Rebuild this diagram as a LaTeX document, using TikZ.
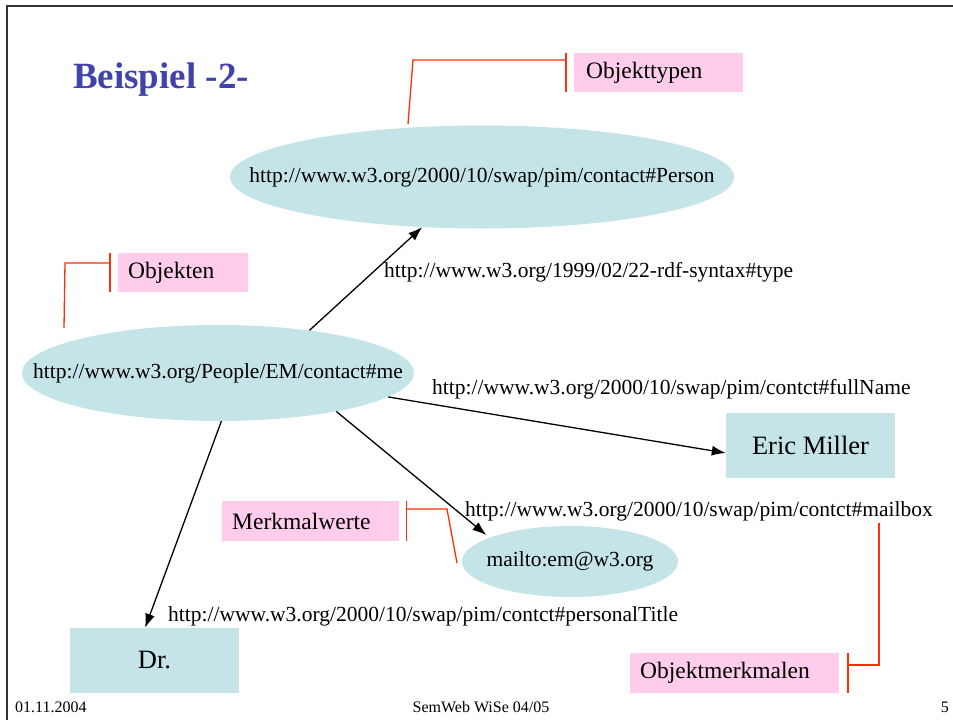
\documentclass[tikz,border=0pt]{standalone}
\usepackage{fontspec}
\setmainfont{Liberation Serif}
\usetikzlibrary{shapes.geometric,arrows.meta,calc}
\definecolor{nodefill}{RGB}{197,228,232}
\definecolor{calloutfill}{RGB}{255,204,236}
\definecolor{calloutline}{RGB}{255,45,10}
\definecolor{titleblue}{RGB}{64,68,170}
\begin{document}
\begin{tikzpicture}[x=1pt,y=-1pt,
  ell/.style={ellipse,fill=nodefill,inner sep=0pt},
  valbox/.style={rectangle,fill=nodefill,inner sep=0pt,font=\fontsize{26.5}{30}\selectfont},
  callbox/.style={rectangle,fill=calloutfill,inner sep=0pt,font=\fontsize{23.5}{27}\selectfont},
  callline/.style={draw=calloutline,line width=1.3pt},
  edge/.style={draw=black,line width=1.3pt,-{Latex[length=14pt,width=10pt]}},
  elab/.style={inner sep=0pt,anchor=west,font=\fontsize{21.5}{25}\selectfont},
  foot/.style={inner sep=0pt,font=\fontsize{16}{19}\selectfont}]
\useasboundingbox (0,0) rectangle (953,720);
\fill[white] (0,0) rectangle (953,720);
\draw[line width=1.4pt,black!80] (953,6) -- (7,6) -- (7,720);

% title
\node[inner sep=0pt,anchor=base west,text=titleblue,font=\fontsize{37}{42}\selectfont\bfseries] (title) at (73,88) {Beispiel -2-};

% nodes
\node[ell,minimum width=504pt,minimum height=103pt,label={[font=\fontsize{21.5}{25}\selectfont]center:http://www.w3.org/2000/10/swap/pim/contact\#Person}] (person) at (482,177) {};
\node[ell,minimum width=392pt,minimum height=96pt,label={[font=\fontsize{21.5}{25}\selectfont]center:http://www.w3.org/People/EM/contact\#me}] (me) at (218,373) {};
\node[ell,minimum width=216pt,minimum height=71pt,label={[font=\fontsize{21.5}{25}\selectfont]center:mailto:em@w3.org}] (mail) at (570,561.5) {};
\node[valbox,minimum width=169pt,minimum height=65pt] (eric) at (810.5,445.5) {Eric Miller};
\node[valbox,minimum width=169pt,minimum height=65pt] (dr) at (154.5,660.5) {Dr.};

% edges
\draw[edge] (me.25) -- (person.220);
\draw[edge] (me.-8) -- ([yshift=-7.5pt]eric.west);
\draw[edge] (me.-18) -- ([xshift=-11pt]mail.160);
\draw[edge] (me.-86) -- (dr.106);

% edge labels
\node[elab] (l1) at (384,272) {http://www.w3.org/1999/02/22-rdf-syntax\#type};
\node[elab] (l2) at (432,389) {http://www.w3.org/2000/10/swap/pim/contct\#fullName};
\node[elab] (l3) at (465,511) {http://www.w3.org/2000/10/swap/pim/contct\#mailbox};
\node[elab] (l4) at (168,616) {http://www.w3.org/2000/10/swap/pim/contct\#personalTitle};

% callouts
\node[callbox,minimum width=169pt,minimum height=39pt,anchor=north west,text width=145pt,align=left] (cot) at (574,53) {Objekttypen};
\coordinate (cotend) at (408,124);
\draw[callline] ([xshift=-8pt]cot.north west) -- ([xshift=-8pt]cot.south west);
\draw[callline] ([xshift=-8pt,yshift=-7pt]cot.north west) -- (413,60) -- (cotend);

\node[callbox,minimum width=130pt,minimum height=39pt,anchor=north west,text width=110pt,align=left] (cob) at (118,253) {Objekten};
\coordinate (cobend) at (64,328);
\draw[callline] ([xshift=-8pt]cob.north west) -- ([xshift=-8pt]cob.south west);
\draw[callline] ([xshift=-8pt,yshift=-10pt]cob.north west) -- (65,263) -- (cobend);

\node[callbox,minimum width=177pt,minimum height=40pt,anchor=north west,text width=157pt,align=left] (cmw) at (222,501) {Merkmalwerte};
\coordinate (cmwend) at (457,563);
\draw[callline] ([xshift=7pt]cmw.north east) -- ([xshift=7pt]cmw.south east);
\draw[callline] ([xshift=7pt,yshift=-8pt]cmw.north east) -- (447,509) -- (cmwend);

\node[callbox,minimum width=209pt,minimum height=40pt,anchor=north west,text width=189pt,align=left] (cmm) at (630,653) {Objektmerkmalen};
\coordinate (cmmend) at (879,523);
\draw[callline] ([xshift=8.5pt]cmm.north east) -- ([xshift=8.5pt]cmm.south east);
\draw[callline] ([xshift=8.5pt,yshift=-12pt]cmm.north east) -- (879,665) -- (cmmend);

% footer
\node[foot,anchor=base west] (fdate) at (15,712) {01.11.2004};
\node[foot,anchor=base] (fmid) at (481,712) {SemWeb WiSe 04/05};
\node[foot,anchor=base east] (fpage) at (949,712) {5};
\end{tikzpicture}
\end{document}
